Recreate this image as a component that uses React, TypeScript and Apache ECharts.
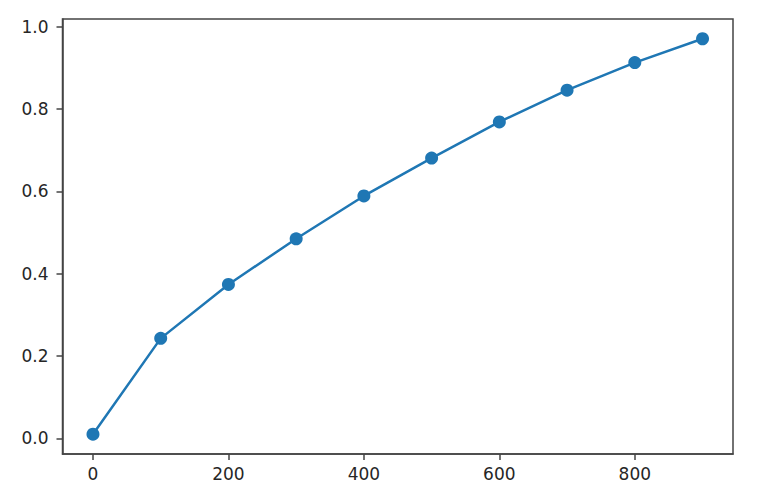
import React, { useEffect, useRef } from "react";
import * as echarts from "echarts";

const xValues = [0, 100, 200, 300, 400, 500, 600, 700, 800, 900];
const yValues = [0.01, 0.243, 0.374, 0.485, 0.589, 0.681, 0.769, 0.846, 0.913, 0.971];
const xTicks = [0, 200, 400, 600, 800];
const yTicks = [0, 0.2, 0.4, 0.6, 0.8, 1.0];

export default function App() {
  const ref = useRef<HTMLDivElement>(null);
  useEffect(() => {
    if (!ref.current) return;
    const chart = echarts.init(ref.current, null, { renderer: "svg" });
    const labelStyle = {
      color: "#262626",
      fontFamily: "DejaVu Sans",
      fontSize: 17,
    };
    chart.setOption({
      animation: false,
      backgroundColor: "#fff",
      grid: {
        left: 62.5,
        top: 19,
        right: 31,
        bottom: 50,
        show: true,
        borderColor: "#444",
        borderWidth: 1.5,
        containLabel: false,
      },
      xAxis: {
        type: "value",
        min: -45,
        max: 945,
        splitLine: { show: false },
        axisLine: { show: true, onZero: false, lineStyle: { color: "#444", width: 1.5 } },
        axisTick: {
          show: true,
          length: 6,
          lineStyle: { color: "#444", width: 1.5 },
          customValues: xTicks,
        },
        axisLabel: {
          ...labelStyle,
          margin: 11,
          customValues: xTicks,
          formatter: (v: number) => String(v),
        },
      },
      yAxis: {
        type: "value",
        min: -0.038,
        max: 1.019,
        splitLine: { show: false },
        axisLine: { show: true, onZero: false, lineStyle: { color: "#444", width: 1.5 } },
        axisTick: {
          show: true,
          length: 6,
          lineStyle: { color: "#444", width: 1.5 },
          customValues: yTicks,
        },
        axisLabel: {
          ...labelStyle,
          margin: 14,
          customValues: yTicks,
          formatter: (v: number) => v.toFixed(1),
        },
      },
      series: [
        {
          type: "line",
          data: xValues.map((x, i) => [x, yValues[i]]),
          symbol: "circle",
          symbolSize: 13,
          lineStyle: { color: "#1f77b4", width: 2.5 },
          itemStyle: { color: "#1f77b4" },
        },
      ],
    });
    return () => chart.dispose();
  }, []);
  return (
    <div
      ref={ref}
      style={{ position: "absolute", left: 0, top: 0, width: 764, height: 504 }}
    />
  );
}
